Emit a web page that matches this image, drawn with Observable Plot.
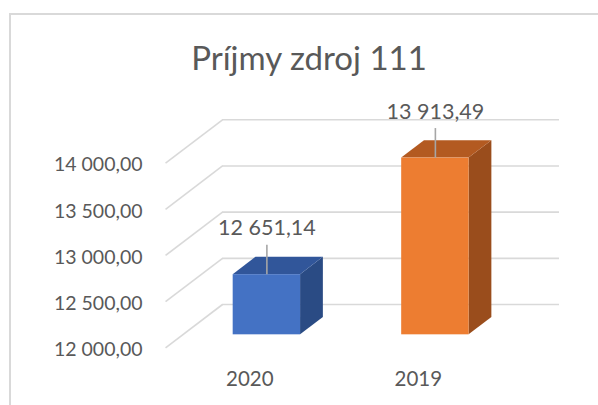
<!DOCTYPE html>
<html>
<head>
<meta charset="utf-8">
<script src="https://cdn.jsdelivr.net/npm/d3@7"></script>
<script src="https://cdn.jsdelivr.net/npm/@observablehq/plot@0.6"></script>
<style>
  html, body { margin: 0; padding: 0; background: #ffffff; }
  #wrap { position: relative; width: 598px; height: 405px; overflow: hidden; font-family: Lato, "Open Sans", sans-serif; }
  #frame { position: absolute; left: 9px; top: 13px; width: 620px; height: 420px; border-left: 2px solid #d9d9d9; border-top: 2px solid #d9d9d9; }
  #title { position: absolute; left: 0; width: 618px; top: 40.5px; text-align: center; font-size: 33px; line-height: 1; color: #595959; margin: 0; font-weight: normal; white-space: nowrap; }
  #chart { position: absolute; left: 0; top: 0; }
</style>
</head>
<body>
<div id="wrap">
  <div id="frame"></div>
  <div id="chart"></div>
  <h2 id="title"></h2>
</div>
<script>
// ---- data ----
const title = "Príjmy zdroj 111";
const categories = ["2020", "2019"];
const values = [12651.14, 13913.49];
const yTicks = [12000, 12500, 13000, 13500, 14000];

// ---- styles ----
const frontColors = ["#4472C4", "#ED7D31"];
const topColors = ["#31569A", "#B35A21"];
const sideColors = ["#2A4B84", "#9A4D1C"];
const textColor = "#595959";
const gridColor = "#d9d9d9";

// 3D projection constants (floor depth expressed in scale units)
const BASE = yTicks[0];
const X_LEFT = -0.5, X_RIGHT = 1.5;
const KX = 0.338;   // x shift of the full floor depth (category units)
const KV = 469;     // y shift of the full floor depth (value units)
const T_BACK = 0.3, T_FRONT = 0.7, HW = 0.2;
const LEADER = 320;

const locale = d3.formatLocale({decimal: ",", thousands: "\u00a0", grouping: [3], currency: ["", ""]});
const fmt = locale.format(",.2f");

document.getElementById("title").textContent = title;

const rows = categories.map((c, i) => ({cat: c, i, value: values[i]}));
const pts = rows.flatMap(r => [T_FRONT, T_BACK].map(t => ({...r, t})));

const plot = Plot.plot({
  width: 598,
  height: 405,
  marginLeft: 222,
  marginRight: 39,
  marginTop: 119.3,
  marginBottom: 101,
  x: {domain: [X_LEFT, X_RIGHT], axis: null},
  y: {domain: [yTicks[0], yTicks[yTicks.length - 1]], axis: null},
  color: {type: "identity"},
  style: {fontFamily: "Lato, 'Open Sans', sans-serif", background: "transparent", overflow: "visible"},
  marks: [
    // back wall gridlines
    Plot.ruleY(yTicks, {stroke: gridColor, strokeWidth: 1.6}),
    // side wall (diagonal) gridlines
    Plot.link(yTicks, {x1: () => X_LEFT - KX, y1: d => d - KV, x2: () => X_LEFT, y2: d => d, stroke: gridColor, strokeWidth: 1.6}),
    // y axis labels
    Plot.text(yTicks, {x: () => X_LEFT - KX, y: d => d - KV, text: d => fmt(d), textAnchor: "end", dx: -23, dy: 2, fontSize: 19.5, fill: textColor}),
    // side faces
    Plot.area(pts, {x1: d => d.i + HW - d.t * KX, x2: d => d.i + HW - d.t * KX, y1: d => BASE - d.t * KV, y2: d => d.value - d.t * KV, z: "cat", fill: d => sideColors[d.i]}),
    // top faces
    Plot.area(pts, {x1: d => d.i - HW - d.t * KX, x2: d => d.i + HW - d.t * KX, y1: d => d.value - d.t * KV, y2: d => d.value - d.t * KV, z: "cat", fill: d => topColors[d.i]}),
    // front faces
    Plot.rect(rows, {x1: d => d.i - HW - T_FRONT * KX, x2: d => d.i + HW - T_FRONT * KX, y1: () => BASE - T_FRONT * KV, y2: d => d.value - T_FRONT * KV, fill: d => frontColors[d.i]}),
    // leader lines
    Plot.ruleX(rows, {x: d => d.i - T_FRONT * KX, y1: d => d.value - T_FRONT * KV, y2: d => d.value - T_FRONT * KV + LEADER, stroke: "#a6a6a6", strokeWidth: 1.6}),
    // data labels
    Plot.text(rows, {x: d => d.i - T_FRONT * KX, y: d => d.value - T_FRONT * KV + LEADER, dy: -10, lineAnchor: "bottom", text: d => fmt(d.value), fontSize: 21.5, fill: textColor}),
    // category labels
    Plot.text(rows, {x: d => d.i - KX, y: () => BASE - KV, dy: 38, lineAnchor: "bottom", text: "cat", fontSize: 20.5, fill: textColor})
  ]
});
document.getElementById("chart").appendChild(plot);
</script>
</body>
</html>
